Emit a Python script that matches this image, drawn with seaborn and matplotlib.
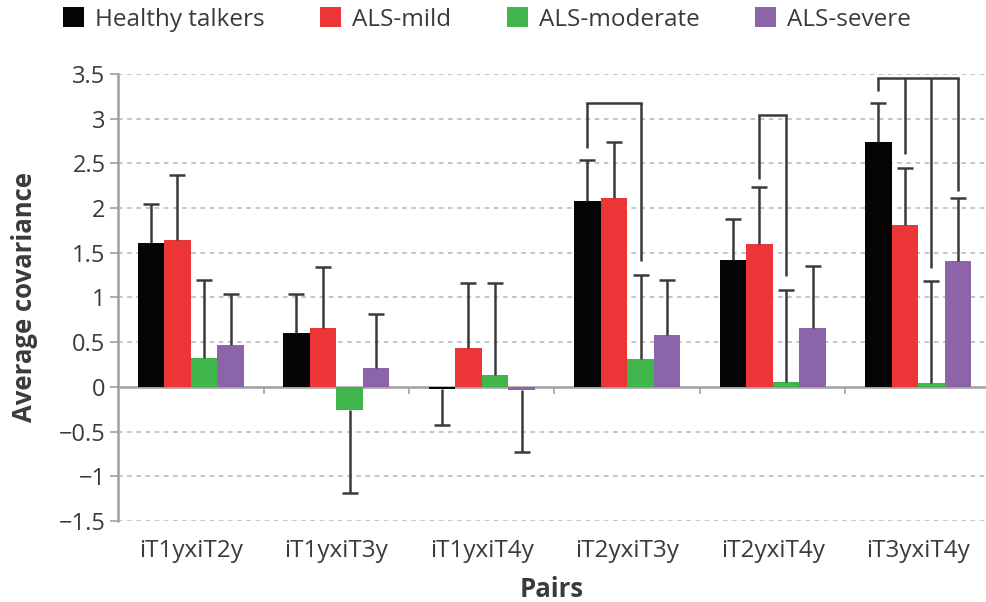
import numpy as np
import pandas as pd
import matplotlib
matplotlib.use("Agg")
import matplotlib.pyplot as plt
from matplotlib.patches import Patch
import seaborn as sns

# ---- data ----
pairs = ["iT1yxiT2y", "iT1yxiT3y", "iT1yxiT4y", "iT2yxiT3y", "iT2yxiT4y", "iT3yxiT4y"]
groups = ["Healthy talkers", "ALS-mild", "ALS-moderate", "ALS-severe"]
healthy = [1.61, 0.60, -0.02, 2.08, 1.42, 2.74]
mild = [1.64, 0.66, 0.44, 2.11, 1.60, 1.81]
moderate = [0.32, -0.26, 0.13, 0.31, 0.05, 0.04]
severe = [0.47, 0.21, -0.04, 0.58, 0.66, 1.41]
healthy_sd = [0.44, 0.44, 0.41, 0.46, 0.46, 0.44]
mild_sd = [0.73, 0.68, 0.72, 0.63, 0.64, 0.64]
moderate_sd = [0.88, 0.93, 1.03, 0.94, 1.03, 1.14]
severe_sd = [0.57, 0.60, 0.69, 0.61, 0.69, 0.70]
colors = ["#050505", "#ec3536", "#40b54b", "#8c64aa"]
yticks = [-1.5, -1, -0.5, 0, 0.5, 1, 1.5, 2, 2.5, 3, 3.5]
# significance brackets: (pair index, group indices, top level, leg bottoms)
brackets = [
    (3, [0, 2], 3.17, [2.67, 1.41]),
    (4, [1, 2], 3.04, [2.33, 1.24]),
    (5, [0, 1, 2, 3], 3.45, [3.31, 2.61, 1.33, 2.19]),
]

means = [healthy, mild, moderate, severe]
sds = [healthy_sd, mild_sd, moderate_sd, severe_sd]
df = pd.DataFrame({
    "Pair": np.repeat([pairs], len(groups), axis=0).ravel(),
    "Group": np.repeat(groups, len(pairs)),
    "Mean": np.concatenate(means),
})

sns.set_theme(style="white")
plt.rcParams["font.family"] = ["Open Sans", "DejaVu Sans"]
plt.rcParams["axes.unicode_minus"] = True

fig = plt.figure(figsize=(9.86, 6.02), dpi=100)
ax = fig.add_axes([0.1197, 0.1346, 0.8803, 0.7425])

sns.barplot(data=df, x="Pair", y="Mean", hue="Group", order=pairs, hue_order=groups,
            palette=colors, saturation=1, width=0.73, errorbar=None, linewidth=0,
            legend=False, ax=ax, zorder=3)

ecol = "#3a3a3a"
bar_conts = list(ax.containers)
centers = {}
for gi, cont in enumerate(bar_conts):
    for pi, bar in enumerate(cont.patches):
        x = bar.get_x() + bar.get_width() / 2
        centers[(pi, gi)] = x
        m = means[gi][pi]
        s = sds[gi][pi]
        end = m + s if m >= 0 else m - s
        ax.plot([x, x], [m, end], color=ecol, lw=1.8, zorder=4, solid_capstyle="butt")
        ax.plot([x], [end], marker="_", ms=11, mew=1.8, color=ecol, zorder=4)

for pi, gis, top, bottoms in brackets:
    xs = [centers[(pi, g)] for g in gis]
    ax.plot([xs[0], xs[-1]], [top, top], color=ecol, lw=1.8, zorder=5, solid_capstyle="projecting")
    for x, b in zip(xs, bottoms):
        ax.plot([x, x], [b, top], color=ecol, lw=1.8, zorder=5, solid_capstyle="butt")

ax.set_ylim(-1.5, 3.5)
ax.set_xlim(-0.5, 5.466)
ax.set_yticks(yticks)
ax.set_yticklabels([("%g" % v).replace("-", "\u2212") for v in yticks])
for v in yticks:
    if v != 0:
        ax.axhline(v, color="#b5b5b5", lw=1.1, ls=(0, (3, 3)), zorder=1)
ax.axhline(0, color="#a0a0a0", lw=1.8, zorder=2)
ax.vlines(np.arange(0.5, 5.5, 1.0), -0.08, 0, color="#a0a0a0", lw=1.2, zorder=2)

for s in ["top", "right", "bottom"]:
    ax.spines[s].set_visible(False)
ax.spines["left"].set_color("#a0a0a0")
ax.spines["left"].set_linewidth(1.8)
ax.tick_params(axis="y", which="major", left=True, length=6, width=1.2, color="#a0a0a0",
               labelsize=17, labelcolor="#3a3a3a", pad=3)
ax.tick_params(axis="x", length=0, labelsize=17.5, labelcolor="#3a3a3a", pad=13)
ax.set_xlabel("Pairs", fontsize=18.5, fontweight="bold", color="#3a3a3a", labelpad=9)
ax.set_ylabel("Average covariance", fontsize=18.5, fontweight="bold", color="#3a3a3a", labelpad=15)

handles = [Patch(facecolor=c, edgecolor="none", label=g) for c, g in zip(colors, groups)]
fig.legend(handles=handles, loc="upper left", bbox_to_anchor=(0.042, 1.024), ncol=4,
           frameon=False, fontsize=17.5, handlelength=0.85, handleheight=0.85,
           handletextpad=0.45, columnspacing=2.3, labelcolor="#3a3a3a")

fig.savefig("out.png", dpi=100)
